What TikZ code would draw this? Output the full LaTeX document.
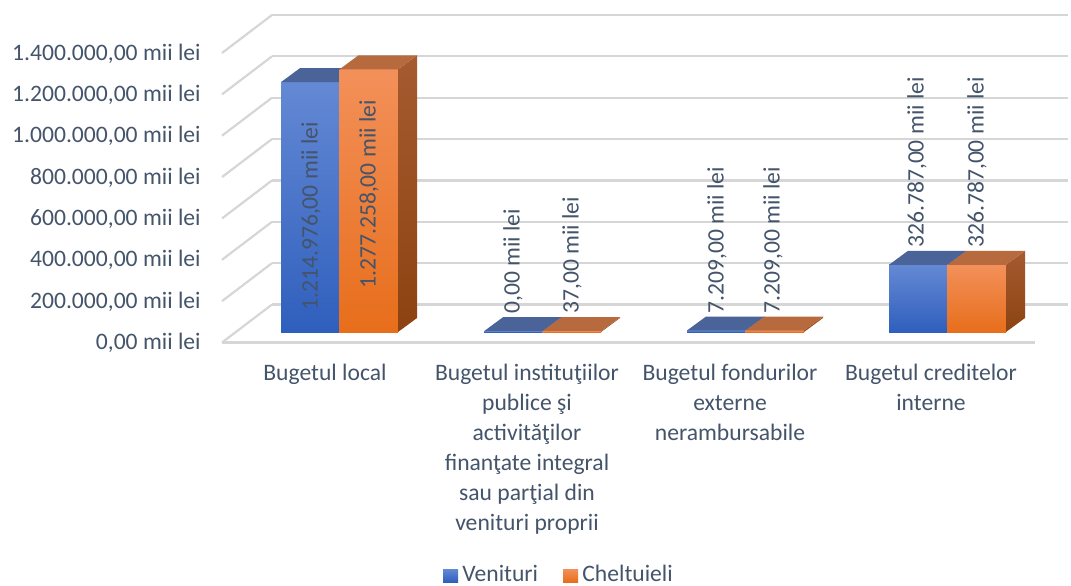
\documentclass[tikz,border=0pt]{standalone}
\usepackage{fontspec}
\setmainfont{Carlito}
\definecolor{txt}{HTML}{44546A}
\definecolor{grid}{HTML}{D6D6D6}
\definecolor{blF1}{HTML}{6489D4}
\definecolor{blF2}{HTML}{2F5FBD}
\definecolor{blT}{HTML}{4A6399}
\definecolor{blS1}{HTML}{3E5C9E}
\definecolor{blS2}{HTML}{2A4C8E}
\definecolor{orF1}{HTML}{F3905A}
\definecolor{orF2}{HTML}{E76E1B}
\definecolor{orT}{HTML}{B76A3E}
\definecolor{orS1}{HTML}{A65B30}
\definecolor{orS2}{HTML}{8C4311}
\newcommand\mkbar[3]{%
  \pgfmathsetmacro\xa{#1}%
  \pgfmathsetmacro\xb{#1+58.5}%
  \pgfmathsetmacro\yt{332-max(#2,0.8)}%
  \shade[top color=#3F1, bottom color=#3F2] (\xa,332) rectangle (\xb,\yt);
  \shade[top color=#3S1, bottom color=#3S2] (\xb,332) -- (\xb,\yt) -- ({\xb+19},{\yt-14}) -- ({\xb+19},318) -- cycle;
  \fill[#3T] (\xa,\yt) -- ({\xa+19},{\yt-14}) -- ({\xb+19},{\yt-14}) -- (\xb,\yt) -- cycle;
}
\begin{document}
\begin{tikzpicture}[x=0.5pt,y=-0.5pt,
  every node/.style={text=txt,inner sep=0pt,font=\fontsize{11.8}{15}\selectfont},
  gridline/.style={draw=grid,line width=1.1pt},
  axlab/.style={anchor=east},
  vlab/.style={rotate=90,anchor=west},
  catlab/.style={anchor=north,align=center}]
\useasboundingbox (0,0) rectangle (1071,585);
% grid
\foreach \k in {0,...,7}{
  \pgfmathsetmacro\yy{304.5-\k*41.36}
  \draw[gridline] (272,\yy) -- (1068,\yy);
  \draw[gridline] (272,\yy) -- (222,{\yy+38});
}
\draw[gridline] (222,342.5) -- (1035,342.5);
% axis labels
\node[axlab] (a0) at (201,343) {0,00 mii lei};
\node[axlab] (a1) at (201,301.6) {200.000,00 mii lei};
\node[axlab] (a2) at (201,260.3) {400.000,00 mii lei};
\node[axlab] (a3) at (201,218.9) {600.000,00 mii lei};
\node[axlab] (a4) at (201,177.6) {800.000,00 mii lei};
\node[axlab] (a5) at (201,136.2) {1.000.000,00 mii lei};
\node[axlab] (a6) at (201,94.8) {1.200.000,00 mii lei};
\node[axlab] (a7) at (201,53.5) {1.400.000,00 mii lei};
% bars
\mkbar{281}{249.9}{bl}
\mkbar{339.5}{262.7}{or}
\mkbar{484}{0}{bl}
\mkbar{542.5}{0}{or}
\mkbar{687}{1.5}{bl}
\mkbar{745.5}{1.5}{or}
\mkbar{889}{67.2}{bl}
\mkbar{947.5}{67.2}{or}
% value labels
\node[vlab] (v1) at (311,311) {1.214.976,00 mii lei};
\node[vlab] (c1) at (369,289) {1.277.258,00 mii lei};
\node[vlab] (v2) at (513,314) {0,00 mii lei};
\node[vlab] (c2) at (572,314) {37,00 mii lei};
\node[vlab] (v3) at (717,314) {7.209,00 mii lei};
\node[vlab] (c3) at (773,314) {7.209,00 mii lei};
\node[vlab] (v4) at (917,248) {326.787,00 mii lei};
\node[vlab] (c4) at (977,248) {326.787,00 mii lei};
% category labels
\node[catlab] (k1) at (325,364) {Bugetul local};
\node[catlab] (k2) at (527,364) {Bugetul instituţiilor\\publice şi\\activităţilor\\finanţate integral\\sau parţial din\\venituri proprii};
\node[catlab] (k3) at (730,364) {Bugetul fondurilor\\externe\\nerambursabile};
\node[catlab] (k4) at (931,364) {Bugetul creditelor\\interne};
% legend
\shade[top color=blF1,bottom color=blF2] (443,569) rectangle (458,582);
\node[anchor=base west] (lv) at (462,581) {Venituri};
\shade[top color=orF1,bottom color=orF2] (563,569) rectangle (578,582);
\node[anchor=base west] (lc) at (582,581) {Cheltuieli};
\end{tikzpicture}
\end{document}
